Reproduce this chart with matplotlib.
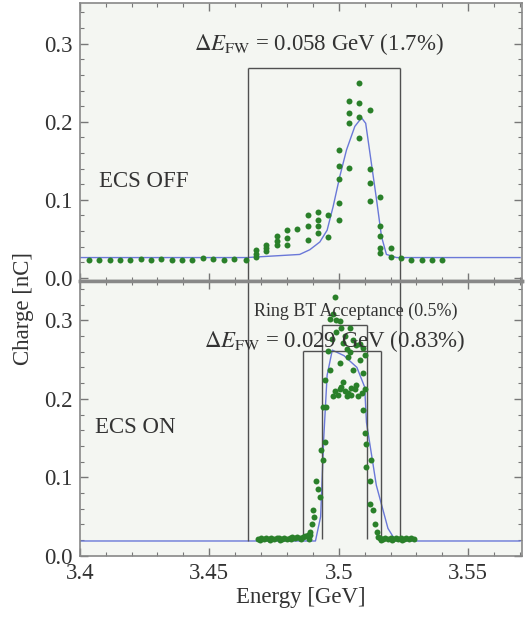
import matplotlib
matplotlib.use("Agg")
import matplotlib.pyplot as plt
from matplotlib.ticker import MultipleLocator

plt.rcParams['font.family'] = ['Liberation Serif', 'DejaVu Serif']
plt.rcParams['mathtext.fontset'] = 'stix'

# --- ECS OFF: measured charge vs energy ---
energy_off = [3.4035, 3.4075, 3.4115, 3.4155, 3.4195, 3.4235, 3.4275, 3.4315,
              3.4355, 3.4395, 3.4435, 3.4475, 3.4515, 3.4555, 3.4595, 3.4640,
              3.468, 3.468, 3.468, 3.472, 3.472, 3.472, 3.476, 3.476, 3.476,
              3.480, 3.480, 3.480, 3.484, 3.488, 3.488, 3.488,
              3.492, 3.492, 3.492, 3.492, 3.496, 3.496,
              3.500, 3.500, 3.500, 3.500, 3.500, 3.504, 3.504, 3.504, 3.504,
              3.508, 3.508, 3.508, 3.508, 3.512, 3.512, 3.512, 3.512,
              3.516, 3.516, 3.516, 3.516, 3.516, 3.520, 3.520,
              3.524, 3.528, 3.532, 3.536, 3.540]
charge_off = [0.023, 0.023, 0.023, 0.023, 0.023, 0.024, 0.023, 0.024,
              0.023, 0.023, 0.023, 0.025, 0.024, 0.023, 0.024, 0.023,
              0.027, 0.031, 0.036, 0.034, 0.038, 0.042, 0.042, 0.047, 0.053,
              0.042, 0.051, 0.061, 0.062, 0.049, 0.066, 0.081,
              0.057, 0.066, 0.074, 0.085, 0.052, 0.081,
              0.074, 0.096, 0.127, 0.143, 0.164, 0.141, 0.199, 0.211, 0.227,
              0.179, 0.206, 0.224, 0.250, 0.098, 0.121, 0.139, 0.215,
              0.032, 0.038, 0.054, 0.066, 0.104, 0.027, 0.038,
              0.025, 0.023, 0.023, 0.023, 0.023]

# fitted curve, ECS OFF
fit_off_e = [3.400, 3.4644, 3.4849, 3.4888, 3.4927, 3.4955, 3.4978, 3.5004, 3.5030,
             3.5062, 3.5088, 3.5104, 3.5122, 3.5146, 3.5165, 3.5184, 3.5223, 3.570]
fit_off_q = [0.026, 0.026, 0.030, 0.036, 0.046, 0.061, 0.091, 0.130, 0.164,
             0.194, 0.205, 0.198, 0.156, 0.100, 0.053, 0.030, 0.026, 0.026]

# --- ECS ON: measured charge vs energy ---
energy_on = [3.469, 3.470, 3.471, 3.472, 3.473, 3.474, 3.475, 3.476, 3.477, 3.478,
             3.479, 3.480, 3.481, 3.482, 3.483, 3.484, 3.485, 3.486, 3.487, 3.488,
             3.489, 3.4695, 3.4735, 3.4775, 3.4815, 3.4855, 3.4885,
             3.4888, 3.4895, 3.4901, 3.4905, 3.4914, 3.4920, 3.4927, 3.4933,
             3.4940, 3.4946, 3.4952, 3.4940, 3.4946, 3.4958, 3.4965, 3.4965,
             3.4972, 3.4978, 3.4978, 3.4985, 3.4991, 3.5004, 3.5004, 3.5004,
             3.5017, 3.5017, 3.5030, 3.5030, 3.5036, 3.5042, 3.5049, 3.5055,
             3.5068, 3.5068, 3.5075, 3.5081, 3.5094, 3.5100, 3.5100,
             3.4985, 3.4998, 3.5010, 3.5023, 3.5036, 3.5049, 3.5062, 3.5088,
             3.4990, 3.5010, 3.5023, 3.5042, 3.5055, 3.5081, 3.5094,
             3.5094, 3.5100, 3.5107, 3.5107, 3.5120, 3.5126, 3.5120, 3.5133,
             3.5139, 3.5146,
             3.515, 3.516, 3.517, 3.518, 3.519, 3.520, 3.521, 3.522, 3.523,
             3.524, 3.525, 3.526, 3.527, 3.528, 3.529, 3.5165, 3.5205, 3.5245]
charge_on = [0.022, 0.023, 0.022, 0.023, 0.022, 0.023, 0.022, 0.023, 0.023, 0.022,
             0.023, 0.022, 0.023, 0.024, 0.023, 0.024, 0.023, 0.024, 0.025, 0.026,
             0.027, 0.020, 0.020, 0.020, 0.021, 0.021, 0.022,
             0.030, 0.041, 0.058, 0.050, 0.096, 0.085, 0.075, 0.135,
             0.122, 0.145, 0.190, 0.190, 0.224, 0.261, 0.237, 0.301,
             0.276, 0.308, 0.203, 0.330, 0.300, 0.299, 0.246, 0.212,
             0.271, 0.222, 0.203, 0.263, 0.253, 0.259, 0.214, 0.237,
             0.269, 0.218, 0.203, 0.250, 0.233, 0.256, 0.212,
             0.210, 0.205, 0.215, 0.210, 0.208, 0.205, 0.212, 0.208,
             0.285, 0.290, 0.280, 0.290, 0.275, 0.270, 0.265,
             0.186, 0.156, 0.143, 0.113, 0.096, 0.122, 0.066, 0.058,
             0.041, 0.030,
             0.024, 0.023, 0.022, 0.023, 0.022, 0.023, 0.022, 0.023, 0.022,
             0.023, 0.022, 0.023, 0.022, 0.023, 0.022, 0.020, 0.020, 0.020]

# fitted curve, ECS ON
fit_on_e = [3.400, 3.4910, 3.4930, 3.4942, 3.4955, 3.4975, 3.5020, 3.5070,
            3.5100, 3.5107, 3.5145, 3.5190, 3.5220, 3.570]
fit_on_q = [0.019, 0.019, 0.050, 0.150, 0.230, 0.262, 0.255, 0.240,
            0.215, 0.170, 0.090, 0.035, 0.019, 0.019]

# energy-spread markers
dE_off = [3.465, 3.5235]
dE_on = [3.4862, 3.5162]
ring_bt = [3.4936, 3.5109]

green = '#2a802a'
blue = '#6a78d8'
line_c = '#505050'
txt_c = '#333333'
bg = '#f4f6f2'
fs = 16.5

fig = plt.figure(figsize=(5.25, 6.17), dpi=100)
ax1 = fig.add_axes([0.152, 0.5446, 0.842, 0.4504])
ax2 = fig.add_axes([0.152, 0.0990, 0.842, 0.4456])

for ax in (ax1, ax2):
    ax.set_facecolor(bg)
    ax.set_xlim(3.4, 3.5707)
    ax.xaxis.set_major_locator(MultipleLocator(0.05))
    ax.xaxis.set_minor_locator(MultipleLocator(0.01))
    ax.yaxis.set_major_locator(MultipleLocator(0.1))
    ax.yaxis.set_minor_locator(MultipleLocator(0.02))
    ax.tick_params(which='both', direction='in', top=True, right=True,
                   color='#777777', labelsize=fs, labelcolor=txt_c)
    ax.tick_params(which='major', length=6, width=1)
    ax.tick_params(which='minor', length=3, width=0.8)
    ax.tick_params(axis='y', pad=5)
    ax.tick_params(axis='x', pad=5)
    for s in ax.spines.values():
        s.set_color('#888888')
        s.set_linewidth(1.2)

ax1.set_ylim(-0.004, 0.352)
ax2.set_ylim(0, 0.35)
ax1.tick_params(labelbottom=False)
ax1.spines['bottom'].set_linewidth(2.5)
ax2.spines['top'].set_linewidth(2.5)

# top panel
ax1.plot(fit_off_e, fit_off_q, color=blue, lw=1.0, zorder=2)
ax1.plot(energy_off, charge_off, 'o', color=green, ms=4.3, mec='none', zorder=3)
ax1.vlines(dE_off, -0.004, 0.269, color=line_c, lw=1.0)
ax1.hlines(0.269, dE_off[0], dE_off[1], color=line_c, lw=1.0)
ax1.text(3.4925, 0.300, r'$\Delta E_{\rm FW}$ = 0.058 GeV (1.7%)',
         ha='center', va='center', fontsize=fs, color=txt_c)
ax1.text(3.4075, 0.123, 'ECS OFF', ha='left', va='center', fontsize=fs, color=txt_c)

# bottom panel
ax2.plot(fit_on_e, fit_on_q, color=blue, lw=1.0, zorder=2)
ax2.plot(energy_on, charge_on, 'o', color=green, ms=4.3, mec='none', zorder=3)
ax2.vlines(dE_off, 0.019, 0.35, color=line_c, lw=1.0)
ax2.vlines(dE_on, 0.023, 0.2615, color=line_c, lw=1.0)
ax2.hlines(0.2615, dE_on[0], dE_on[1], color=line_c, lw=1.0)
ax2.vlines(ring_bt, 0.022, 0.2936, color=line_c, lw=1.0)
ax2.hlines(0.2936, ring_bt[0], ring_bt[1], color=line_c, lw=1.0)
ax2.text(3.5065, 0.311, 'Ring BT Acceptance (0.5%)', ha='center', va='center',
         fontsize=13, color=txt_c)
ax2.text(3.4985, 0.273, r'$\Delta E_{\rm FW}$ = 0.029 GeV (0.83%)',
         ha='center', va='center', fontsize=fs, color=txt_c)
ax2.text(3.406, 0.164, 'ECS ON', ha='left', va='center', fontsize=fs, color=txt_c)

ax2.set_xticks([3.4, 3.45, 3.5, 3.55])
ax2.set_xticklabels(['3.4', '3.45', '3.5', '3.55'])
ax2.set_xlabel('Energy [GeV]', fontsize=fs, color=txt_c, labelpad=2)
fig.text(0.045, 0.5, 'Charge [nC]', rotation=90, ha='center', va='center',
         fontsize=fs, color=txt_c)

fig.savefig('out.png', dpi=100)
